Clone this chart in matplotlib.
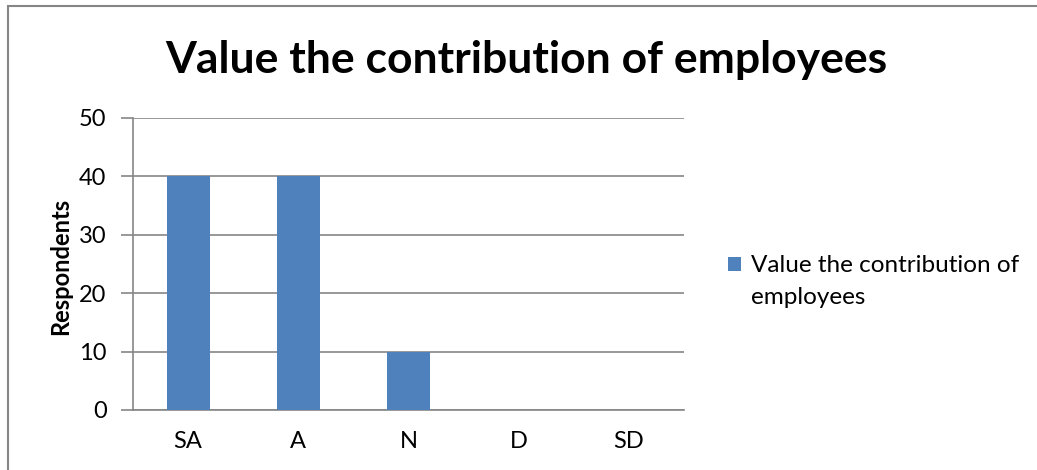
import numpy as np
import matplotlib.pyplot as plt
from matplotlib.patches import Rectangle

# ===================================================================================
# DATA
# ===================================================================================
categories = ["SA", "A", "N", "D", "SD"]
respondents = [40, 40, 10, 0, 0]
series_name = ["Value the contribution of", "employees"]
chart_title = "Value the contribution of employees"
y_ticks = [0, 10, 20, 30, 40, 50]

# ===================================================================================
# PLOT
# ===================================================================================
plt.rcParams['font.family'] = ['Lato', 'DejaVu Sans']

fig = plt.figure(figsize=(10.37, 4.70), dpi=100)
ax = fig.add_axes([133/1037, 1 - 410/470, (684 - 133)/1037, (410 - 118)/470])

grid_color = "#868686"
x = np.arange(len(categories))
ax.bar(x, respondents, width=0.39, color="#4F81BD", label=series_name[0], zorder=3)

ax.set_xlim(-0.5, len(categories) - 0.5)
ax.set_ylim(0, 50)
ax.set_yticks(y_ticks)
ax.set_xticks(x)
ax.set_xticklabels(categories)
ax.tick_params(axis="x", length=0, pad=15, labelsize=17)
ax.tick_params(axis="y", length=9, width=1.2, color=grid_color, pad=10, labelsize=17)
ax.yaxis.grid(True, color=grid_color, linewidth=1.2, zorder=0)
for side in ["top", "right"]:
    ax.spines[side].set_visible(False)
ax.spines["left"].set_color(grid_color)
ax.spines["left"].set_linewidth(1.2)
ax.spines["bottom"].set_color(grid_color)
ax.spines["bottom"].set_linewidth(1.2)

ax.set_ylabel("Respondents", fontsize=17, fontweight="bold")
ax.yaxis.set_label_coords((72 - 133)/551, 0.49)

fig.text(0.508, 1 - 60/470, chart_title, ha="center", va="center",
         fontsize=32, fontweight="bold")

# legend: the handle sits on the first line, the label wraps onto a second line
leg = fig.legend(loc="center left", bbox_to_anchor=(706/1037, 1 - 266/470),
                 frameon=False, fontsize=17.5, handlelength=0.55, handleheight=0.55,
                 handletextpad=0.4)
fig.canvas.draw()
bb = leg.get_texts()[0].get_window_extent().transformed(fig.transFigure.inverted())
fig.text(bb.x0, bb.y0 - 32/470 + (bb.y1 - bb.y0)/2, series_name[1], fontsize=17.5,
         ha="left", va="center")

# outer chart border
fig.patches.append(Rectangle((8/1037, -0.1), 1.2, 1 - 6/470 + 0.1,
                             transform=fig.transFigure, fill=False,
                             edgecolor="#868686", linewidth=1.5))

plt.savefig("out.png", dpi=100)
